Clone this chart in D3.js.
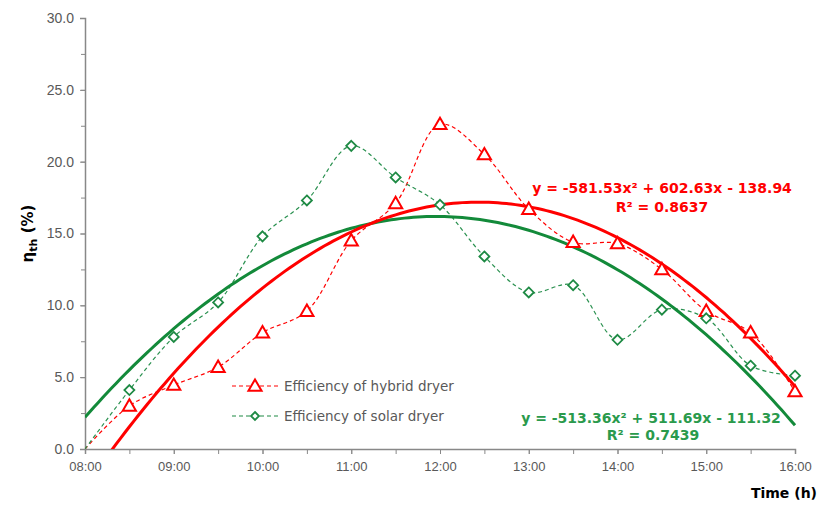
<!DOCTYPE html>
<html>
<head>
<meta charset="utf-8">
<script src="https://cdn.jsdelivr.net/npm/d3@7"></script>
<style>
  body { margin: 0; background: #fff; }
  svg { font-family: "DejaVu Sans", Verdana, sans-serif; }
</style>
</head>
<body>
<div id="chart"></div>
<script>
// times of measurement (hh:mm)
const times = ["08:00", "08:30", "09:00", "09:30", "10:00", "10:30", "11:00", "11:30", "12:00",
  "12:30", "13:00", "13:30", "14:00", "14:30", "15:00", "15:30", "16:00"]
const hybrid = [0, 3.0, 4.45, 5.7, 8.1, 9.6, 14.5, 17.1, 22.6, 20.5, 16.7, 14.4, 14.3, 12.5, 9.6, 8.1, 4.0]
const solar = [0, 4.1, 7.8, 10.2, 14.8, 17.3, 21.1, 18.9, 17.0, 13.4, 10.9, 11.4, 7.6, 9.7, 9.1, 5.8, 5.1]
const xTickLabels = ["08:00", "09:00", "10:00", "11:00", "12:00", "13:00", "14:00", "15:00", "16:00"]
const yTicks = [0, 5, 10, 15, 20, 25, 30]
// polynomial trend lines (x = fraction of day)
const hybridFit = [-581.53, 602.63, -138.94]
const solarFit = [-513.36, 511.69, -111.32]
const hybridEq = "y = -581.53x² + 602.63x - 138.94"
const hybridR2 = "R² = 0.8637"
const solarEq = "y = -513.36x² + 511.69x - 111.32"
const solarR2 = "R² = 0.7439"

const dayFrac = s => { const [h, m] = s.split(":").map(Number); return (h * 60 + m) / 1440 }

const margin = { top: 18, right: 23, bottom: 56, left: 85 }
const width = 818 - margin.left - margin.right
const height = 505 - margin.top - margin.bottom

const red = "#ff0000"
const green = "#138a3a"
const grey = "#595959"

const svg = d3.select("#chart").append("svg")
  .attr("width", 818)
  .attr("height", 505)
  .append("g")
  .attr("transform", "translate(" + margin.left + "," + margin.top + ")")

const x = d3.scaleLinear().domain([dayFrac("08:00"), dayFrac("16:00")]).range([0, width])
const y = d3.scaleLinear().domain([0, 30]).range([height, 0])

svg.append("clipPath").attr("id", "plot")
  .append("rect").attr("width", width + 2).attr("height", height)

// minor ticks
const minorX = times.map(dayFrac)
svg.append("g")
  .attr("transform", "translate(0," + height + ")")
  .call(d3.axisBottom(x).tickValues(minorX).tickSize(5).tickFormat(""))
  .call(g => g.select(".domain").remove())
  .selectAll("line").attr("stroke", "#888")

svg.append("g")
  .call(d3.axisLeft(y).tickValues(d3.range(0, 30.1, 2.5)).tickSize(4).tickFormat(""))
  .call(g => g.select(".domain").remove())
  .selectAll("line").attr("stroke", "#888")

// axes
const xAxis = svg.append("g")
  .attr("transform", "translate(0," + height + ")")
  .call(d3.axisBottom(x).tickValues(xTickLabels.map(dayFrac)).tickSize(5)
    .tickFormat((d, i) => xTickLabels[i]).tickPadding(8))
xAxis.select(".domain").attr("stroke", "#888").attr("stroke-width", 1.5)
xAxis.selectAll("line").attr("stroke", "#888")
xAxis.selectAll("text").attr("fill", grey).style("font-size", "13px")

const yAxis = svg.append("g")
  .call(d3.axisLeft(y).tickValues(yTicks).tickSize(5).tickFormat(d3.format(".1f")).tickPadding(6))
yAxis.select(".domain").attr("stroke", "#888").attr("stroke-width", 1.5)
yAxis.selectAll("line").attr("stroke", "#888")
yAxis.selectAll("text").attr("fill", grey).style("font-size", "14px")

// trend lines
const fitPts = f => d3.range(0, 161).map(i => {
  const t = dayFrac("08:00") + i / 160 * (dayFrac("16:00") - dayFrac("08:00"))
  return [t, f[0] * t * t + f[1] * t + f[2]]
})
const trend = d3.line().x(d => x(d[0])).y(d => y(d[1]))

const plot = svg.append("g").attr("clip-path", "url(#plot)")

const smooth = d3.line()
  .x((d, i) => x(dayFrac(times[i])))
  .y(d => y(d))
  .curve(d3.curveCatmullRom.alpha(0.5))

plot.append("path").datum(hybrid)
  .attr("d", smooth).attr("fill", "none")
  .attr("stroke", red).attr("stroke-width", 1.2).attr("stroke-dasharray", "4,3")
plot.append("path").datum(solar)
  .attr("d", smooth).attr("fill", "none")
  .attr("stroke", "#2a9150").attr("stroke-width", 1.2).attr("stroke-dasharray", "4,3")

plot.append("path").datum(fitPts(solarFit))
  .attr("d", trend).attr("fill", "none").attr("stroke", green).attr("stroke-width", 3)
plot.append("path").datum(fitPts(hybridFit))
  .attr("d", trend).attr("fill", "none").attr("stroke", red).attr("stroke-width", 3)

// markers
const tri = d3.symbol().type(d3.symbolTriangle).size(75)
const dia = "M0,-5L5,0L0,5L-5,0Z"

svg.selectAll(".tri")
  .data(hybrid.slice(1))
  .enter().append("path")
  .attr("d", tri)
  .attr("transform", (d, i) => "translate(" + x(dayFrac(times[i + 1])) + "," + (y(d) + 1) + ")")
  .attr("fill", "#fff").attr("stroke", red).attr("stroke-width", 2)

svg.selectAll(".dia")
  .data(solar.slice(1))
  .enter().append("path")
  .attr("d", dia)
  .attr("transform", (d, i) => "translate(" + x(dayFrac(times[i + 1])) + "," + y(d) + ")")
  .attr("fill", "#fff").attr("stroke", "#1e8a44").attr("stroke-width", 1.8)

// legend
const legend = [
  { label: "Efficiency of hybrid dryer", color: red, sym: tri, sw: 2 },
  { label: "Efficiency of solar dryer", color: "#1e8a44", sym: "M0,-4L4,0L0,4L-4,0Z", sw: 1.8 }
]
legend.forEach((l, i) => {
  const g = svg.append("g").attr("transform", "translate(147," + (368 + i * 30) + ")")
  g.append("line").attr("x1", 0).attr("x2", 46).attr("stroke", l.color)
    .attr("stroke-width", 1.2).attr("stroke-dasharray", "4,3")
  g.append("path").attr("d", l.sym).attr("fill", "#fff").attr("stroke", l.color)
    .attr("stroke-width", l.sw).attr("transform", "translate(23," + (i == 0 ? 1 : 0) + ")")
  g.append("text").attr("x", 52).attr("y", 5).text(l.label)
    .attr("fill", grey).style("font-size", "13.5px")
})

// equations
svg.append("text").attr("x", 577).attr("y", 175).attr("text-anchor", "middle")
  .attr("fill", red).style("font-size", "14px").style("font-weight", "bold").text(hybridEq)
svg.append("text").attr("x", 577).attr("y", 194).attr("text-anchor", "middle")
  .attr("fill", red).style("font-size", "14px").style("font-weight", "bold").text(hybridR2)
svg.append("text").attr("x", 566).attr("y", 405).attr("text-anchor", "middle")
  .attr("fill", "#2a9a4c").style("font-size", "14px").style("font-weight", "bold").text(solarEq)
svg.append("text").attr("x", 568).attr("y", 422).attr("text-anchor", "middle")
  .attr("fill", "#2a9a4c").style("font-size", "14px").style("font-weight", "bold").text(solarR2)

// axis titles
const yt = svg.append("text")
  .attr("transform", "translate(-52," + (height / 2) + ") rotate(-90)")
  .attr("text-anchor", "middle")
  .style("font-size", "15px").style("font-weight", "bold").attr("fill", "#000")
yt.append("tspan").text("η")
yt.append("tspan").text("th").attr("dy", 4).style("font-size", "11px")
yt.append("tspan").text(" (%)").attr("dy", -4)

svg.append("text").attr("x", width + 22).attr("y", height + 49).attr("text-anchor", "end")
  .style("font-size", "14px").style("font-weight", "bold").attr("fill", "#000").text("Time (h)")
</script>
</body>
</html>
